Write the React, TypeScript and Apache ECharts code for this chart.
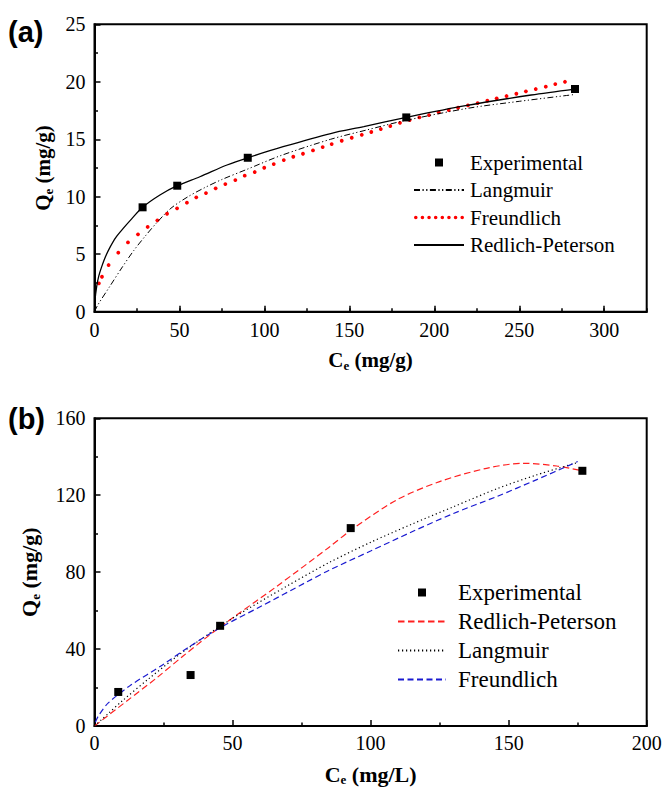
import React, { useEffect, useRef } from "react";
import * as echarts from "echarts";

// ---------- Panel (a) data ----------
const expA_C = [28.3, 48.7, 90.2, 183.5, 282.8];
const expA_Q = [9.08, 10.96, 13.39, 16.9, 19.37];

const langA_C = [0, 2, 9, 16, 23, 30, 37, 45, 55, 65, 75, 90, 110, 139, 160, 182, 220, 250, 283];
const langA_Q = [0, 0.6, 2.2, 3.8, 5.3, 6.6, 7.8, 9.0, 10.0, 10.8, 11.5, 12.4, 13.6, 15.0, 15.8, 16.6, 17.7, 18.3, 18.9];

const freA_C = [2.6, 4.4, 8.3, 14.0, 19.7, 25.6, 31.3, 37.0, 42.7, 48.6, 54.4, 59.9, 65.6, 71.3, 77.0, 82.9,
  88.4, 94.3, 99.9, 105.5, 111.4, 117.0, 122.7, 128.6, 134.3, 139.6, 145.5, 151.4, 157.3, 162.9, 168.5, 174.1,
  179.8, 185.5, 191.2, 196.9, 202.6, 208.5, 214.0, 219.8, 225.5, 231.2, 236.7, 242.5, 248.3, 253.9, 259.7, 265.6, 271.2, 276.9];
const freA_Q = [2.47, 3.04, 4.06, 5.13, 6.03, 6.73, 7.37, 7.95, 8.52, 8.99, 9.48, 9.95, 10.32, 10.73, 11.1, 11.45,
  11.83, 12.15, 12.52, 12.84, 13.19, 13.48, 13.74, 14.03, 14.32, 14.58, 14.87, 15.13, 15.39, 15.63, 15.89, 16.15,
  16.43, 16.67, 16.9, 17.1, 17.34, 17.54, 17.74, 17.95, 18.15, 18.35, 18.56, 18.76, 18.96, 19.17, 19.37, 19.57, 19.8, 20.0];

const rpA_C = [0, 0.3, 1.3, 2.5, 4.2, 6.5, 9.1, 12.5, 16.9, 22, 28.3, 38.5, 48.7, 62, 78, 90.2, 111, 139, 158.5, 183.5, 217.5, 257, 282.8];
const rpA_Q = [0, 1.0, 2.2, 3.1, 3.9, 4.8, 5.6, 6.45, 7.25, 8.1, 9.08, 10.15, 10.96, 11.74, 12.76, 13.39, 14.35, 15.5, 16.1, 16.9, 17.9, 18.85, 19.37];

const legendA = ["Experimental", "Langmuir", "Freundlich", "Redlich-Peterson"];

// ---------- Panel (b) data ----------
const expB_C = [8.6, 34.8, 45.5, 92.8, 176.7];
const expB_Q = [17.7, 26.5, 52.1, 102.9, 132.7];

const rpB_C = [0, 11.7, 22.5, 32.2, 45.5, 66, 85, 93, 109.5, 125, 142, 155.3, 167.4, 176.7];
const rpB_Q = [0, 13, 25, 36.5, 51.5, 72.6, 93, 102, 117.6, 127.1, 134, 136.6, 135.2, 132.7];

const langB_C = [0, 5, 10, 20, 32, 50, 70, 85, 100, 115, 130, 146, 160, 175];
const langB_Q = [0, 6.5, 13, 25, 38.5, 56, 73, 85, 95.5, 105, 114, 123.5, 130.5, 137];

const freB_C = [0.3, 1.4, 5, 12.9, 24.9, 34.6, 46, 60, 77, 85, 100, 115, 130, 146, 160, 175];
const freB_Q = [2, 5.2, 12, 21, 32, 41.5, 51.5, 62, 75, 81, 91, 101, 110.5, 119.5, 128, 137.5];

const legendB = ["Experimental", "Redlich-Peterson", "Langmuir", "Freundlich"];

const SERIF = "Liberation Serif";
const SANS = "Liberation Sans";

const pairs = (xs: number[], ys: number[]) => xs.map((x, i) => [x, ys[i]]);

const nameRich = (size: number) => ({
  m: { fontSize: size, fontWeight: "bold", fontFamily: SERIF, color: "#000", lineHeight: 24 },
  s: { fontSize: 13, fontWeight: "bold", fontFamily: SERIF, color: "#000", lineHeight: 4, verticalAlign: "bottom" },
});

const tickLabel = (margin: number, extra: any = {}) => ({
  color: "#000",
  fontSize: 20,
  fontFamily: SERIF,
  fontWeight: "normal",
  margin,
  ...extra,
});

const axisCommon = {
  axisLine: { show: true, onZero: false, lineStyle: { color: "#000", width: 2 } },
  axisTick: { show: true, inside: true, length: 6, lineStyle: { color: "#000", width: 1.5 } },
  minorTick: { show: true, splitNumber: 2, length: 3.5, lineStyle: { color: "#000", width: 1.5 } },
  splitLine: { show: false },
};

// legend sample icons
const squareIcon = "path://M0,0H10V10H0Z";
const dotIcon = (() => {
  let d = "path://";
  for (let i = 0; i < 8; i++) {
    const cx = 1 + i * 3.7;
    d += `M${cx - 1},1a1,1 0 1,0 2,0a1,1 0 1,0 -2,0Z`;
  }
  return d;
})();
const hideSym = { opacity: 0 };

const legendText = (size: number, padLeft: number) => ({
  fontSize: size,
  lineHeight: size,
  fontFamily: SERIF,
  fontWeight: "normal",
  color: "#000",
  padding: [0, 0, 0, padLeft],
});

function buildA(): any {
  return {
    animation: false,
    textStyle: { fontFamily: SERIF },
    grid: { left: 94.5, top: 24.3, width: 552.2, height: 287.4, show: true, borderColor: "#000", borderWidth: 2, backgroundColor: "transparent" },
    graphic: [
      { type: "text", x: 8, y: 32, style: { text: "(a)", fontSize: 29, fontWeight: "bold", fontFamily: SANS, fill: "#000", verticalAlign: "middle", align: "left" } },
    ],
    legend: {
      orient: "vertical", left: 413, top: 152, padding: 0, itemWidth: 50, itemHeight: 8, itemGap: 6.5,
      textStyle: legendText(21, 1),
      data: [
        { name: legendA[0], icon: squareIcon },
        { name: legendA[1], itemStyle: hideSym },
        { name: legendA[2], icon: dotIcon },
        { name: legendA[3], itemStyle: hideSym },
      ],
    },
    xAxis: [
      {
        ...axisCommon, type: "value", min: 0, max: 325, interval: 50,
        minorTick: { show: false },
        axisLabel: tickLabel(8, { showMaxLabel: false }),
        name: "{m|C}{s|e}{m| (mg/g)}", nameLocation: "middle", nameGap: 36,
        nameTextStyle: { rich: nameRich(21) },
      },
      {
        type: "value", min: 0, max: 325, interval: 25, position: "bottom",
        axisLine: { show: false, onZero: false },
        axisTick: { show: true, inside: true, length: 3.5, lineStyle: { color: "#000", width: 1.5 } },
        axisLabel: { show: false }, splitLine: { show: false },
      },
    ],
    yAxis: [
      {
        ...axisCommon, type: "value", min: 0, max: 25, interval: 5,
        axisLabel: tickLabel(9),
        name: "{m|Q}{s|e}{m| (mg/g)}", nameLocation: "middle", nameGap: 39,
        nameTextStyle: { rich: nameRich(21) },
      },
    ],
    series: [
      { name: legendA[0], type: "scatter", symbol: "rect", symbolSize: 8, itemStyle: { color: "#000", opacity: 1 }, data: pairs(expA_C, expA_Q), z: 5 },
      { name: legendA[1], type: "line", symbol: "none", smooth: 0.3, data: pairs(langA_C, langA_Q),
        lineStyle: { color: "#000", width: 1, type: [6, 2.5, 1.2, 2.5, 1.2, 2.5] }, itemStyle: { color: "#000" } },
      { name: legendA[2], type: "scatter", symbol: "circle", symbolSize: 3.8, data: pairs(freA_C, freA_Q),
        itemStyle: { color: "#ff0000", opacity: 1 } },
      { name: legendA[3], type: "line", symbol: "none", smooth: 0.3, data: pairs(rpA_C, rpA_Q),
        lineStyle: { color: "#000", width: 1.3, type: "solid" }, itemStyle: { color: "#000" } },
    ],
  };
}

function buildB(): any {
  return {
    animation: false,
    textStyle: { fontFamily: SERIF },
    grid: { left: 94.5, top: 23.3, width: 552.2, height: 308.4, show: true, borderColor: "#000", borderWidth: 2, backgroundColor: "transparent" },
    graphic: [
      { type: "text", x: 8, y: 24, style: { text: "(b)", fontSize: 29, fontWeight: "bold", fontFamily: SANS, fill: "#000", verticalAlign: "middle", align: "left" } },
    ],
    legend: {
      orient: "vertical", left: 397, top: 186, padding: 0, itemWidth: 48, itemHeight: 8, itemGap: 6,
      textStyle: legendText(23, 7),
      data: [
        { name: legendB[0], icon: squareIcon },
        { name: legendB[1], itemStyle: hideSym },
        { name: legendB[2], itemStyle: hideSym },
        { name: legendB[3], itemStyle: hideSym },
      ],
    },
    xAxis: [
      {
        ...axisCommon, type: "value", min: 0, max: 200, interval: 50,
        axisLabel: tickLabel(7),
        name: "{m|C}{s|e}{m| (mg/L)}", nameLocation: "middle", nameGap: 36,
        nameTextStyle: { rich: nameRich(22) },
      },
    ],
    yAxis: [
      {
        ...axisCommon, type: "value", min: 0, max: 160, interval: 40,
        axisLabel: tickLabel(9),
        name: "{m|Q}{s|e}{m| (mg/g)}", nameLocation: "middle", nameGap: 53,
        nameTextStyle: { rich: nameRich(22) },
      },
    ],
    series: [
      { name: legendB[0], type: "scatter", symbol: "rect", symbolSize: 8, itemStyle: { color: "#000", opacity: 1 }, data: pairs(expB_C, expB_Q), z: 5 },
      { name: legendB[1], type: "line", symbol: "none", smooth: 0.3, data: pairs(rpB_C, rpB_Q),
        lineStyle: { color: "#ff2020", width: 1.2, type: [6.5, 3.5] }, itemStyle: { color: "#ff2020" } },
      { name: legendB[2], type: "line", symbol: "none", smooth: 0.3, data: pairs(langB_C, langB_Q),
        lineStyle: { color: "#000", width: 1.2, type: [1.2, 2.8] }, itemStyle: { color: "#000" } },
      { name: legendB[3], type: "line", symbol: "none", smooth: 0.3, data: pairs(freB_C, freB_Q),
        lineStyle: { color: "#1a1ad0", width: 1.2, type: [6, 3.5] }, itemStyle: { color: "#1a1ad0" } },
    ],
  };
}

export default function App() {
  const refA = useRef<HTMLDivElement>(null);
  const refB = useRef<HTMLDivElement>(null);
  useEffect(() => {
    const a = echarts.init(refA.current!, null, { renderer: "svg" });
    const b = echarts.init(refB.current!, null, { renderer: "svg" });
    a.setOption(buildA());
    b.setOption(buildB());
    return () => {
      a.dispose();
      b.dispose();
    };
  }, []);
  return (
    <div style={{ position: "fixed", left: 0, top: 0, width: 665, height: 791, background: "#fff" }}>
      <div ref={refA} style={{ position: "absolute", left: 0, top: 0, width: 665, height: 395 }} />
      <div ref={refB} style={{ position: "absolute", left: 0, top: 395, width: 665, height: 396 }} />
    </div>
  );
}
